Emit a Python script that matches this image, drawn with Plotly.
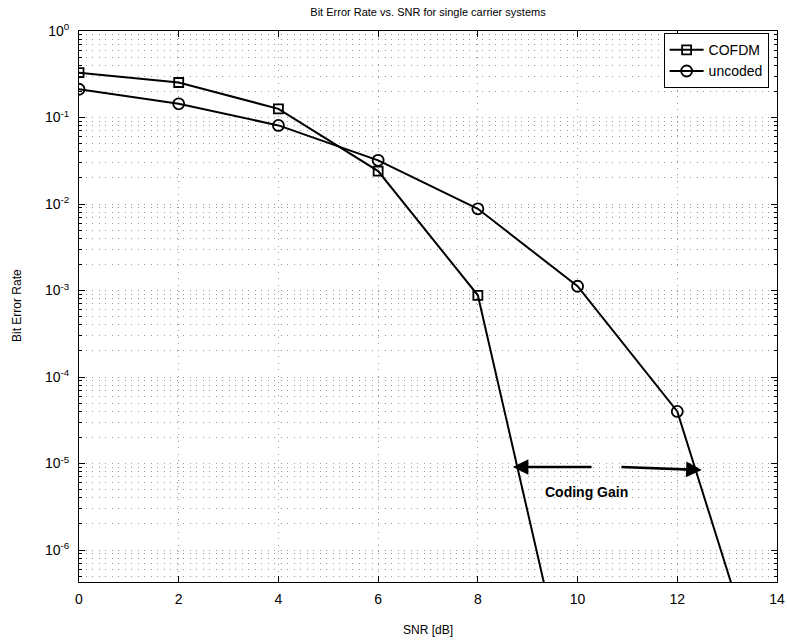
import plotly.graph_objects as go

snr = [0, 2, 4, 6, 8, 10]
ber_cofdm = [0.33, 0.254, 0.126, 0.024, 8.8e-4, 8.5e-9]
snr_unc = [0, 2, 4, 6, 8, 10, 12, 14]
ber_uncoded = [0.212, 0.144, 0.081, 0.032, 0.0088, 1.12e-3, 4.0e-5, 8.5e-9]

ytick_vals = [1, 1e-1, 1e-2, 1e-3, 1e-4, 1e-5, 1e-6]
ytick_text = ["10<sup>0</sup>", "10<sup>-1</sup>", "10<sup>-2</sup>", "10<sup>-3</sup>",
              "10<sup>-4</sup>", "10<sup>-5</sup>", "10<sup>-6</sup>"]

title = "Bit Error Rate vs. SNR for single carrier systems"
xlabel = "SNR [dB]"
ylabel = "Bit Error Rate"
gain_text = "Coding Gain"

W, H = 787, 643
L, R, T, B = 79, 777, 31, 582
pw, ph = R - L, B - T

fig = go.Figure()
fig.add_trace(go.Scatter(x=snr, y=ber_cofdm, name="COFDM", mode="lines+markers",
                         line=dict(color="black", width=2),
                         marker=dict(symbol="square-open", size=9, color="black",
                                     line=dict(width=1.8, color="black"))))
fig.add_trace(go.Scatter(x=snr_unc, y=ber_uncoded, name="uncoded", mode="lines+markers",
                         line=dict(color="black", width=2),
                         marker=dict(symbol="circle-open", size=11, color="black",
                                     line=dict(width=1.8, color="black"))))

grid_col = "#999999"
gdash = "1px,5.5px"
fig.update_layout(
    width=W, height=H,
    margin=dict(l=L, r=W - R, t=T, b=H - B, autoexpand=False),
    paper_bgcolor="white", plot_bgcolor="white",
    font=dict(family="Liberation Sans, Arial, sans-serif", size=12, color="black"),
    title=dict(text=title, x=(L + R) / 2 / W, xanchor="center", xref="container",
               y=1 - 12 / H, yanchor="middle", font=dict(size=11)),
    showlegend=True,
    legend=dict(x=0.988, y=0.996, xanchor="right", yanchor="top",
                bgcolor="white", bordercolor="black", borderwidth=1,
                font=dict(size=14), itemwidth=34, tracegroupgap=0),
)
fig.update_xaxes(range=[0, 14], dtick=2, tick0=0, showgrid=True, gridcolor=grid_col,
                 griddash=gdash, gridwidth=1, zeroline=False, automargin=False,
                 showline=True, linecolor="black", linewidth=1, mirror="ticks",
                 ticks="inside", ticklen=6, tickcolor="black", ticklabelstandoff=4,
                 tickfont=dict(size=14))
fig.update_yaxes(type="log", range=[-6.37, 0], tickvals=ytick_vals, ticktext=ytick_text,
                 showgrid=True, gridcolor=grid_col, griddash=gdash, gridwidth=1,
                 zeroline=False, showline=True, linecolor="black", linewidth=1,
                 automargin=False, ticklabelstandoff=6,
                 mirror="ticks", ticks="inside", ticklen=6, tickcolor="black",
                 minor=dict(dtick="D1", showgrid=True, gridcolor=grid_col,
                            griddash=gdash, ticks="inside", ticklen=3,
                            tickcolor="black"),
                 tickfont=dict(size=14))

fig.add_annotation(text=xlabel, x=0.5, y=-(630 - B) / ph, xref="paper", yref="paper",
                   showarrow=False, xanchor="center", yanchor="middle", font=dict(size=12))
fig.add_annotation(text=ylabel, x=(17 - L) / pw, y=1 - (306 - T) / ph, xref="paper",
                   yref="paper", showarrow=False, xanchor="center", yanchor="middle",
                   textangle=-90, font=dict(size=12))

# arrows
fig.add_annotation(x=8.70, y=-5.04, ax=10.31, ay=-5.04, xref="x", yref="y",
                   axref="x", ayref="y", text="", showarrow=True,
                   arrowhead=2, arrowsize=1.2, arrowwidth=2.6, arrowcolor="black")
fig.add_annotation(x=12.49, y=-5.075, ax=10.85, ay=-5.04, xref="x", yref="y",
                   axref="x", ayref="y", text="", showarrow=True,
                   arrowhead=2, arrowsize=1.2, arrowwidth=2.6, arrowcolor="black")
fig.add_annotation(x=10.17, y=-5.33, xref="x", yref="y", text="<b>" + gain_text + "</b>",
                   showarrow=False, font=dict(size=14, color="black"))

fig.write_html("out.html")
